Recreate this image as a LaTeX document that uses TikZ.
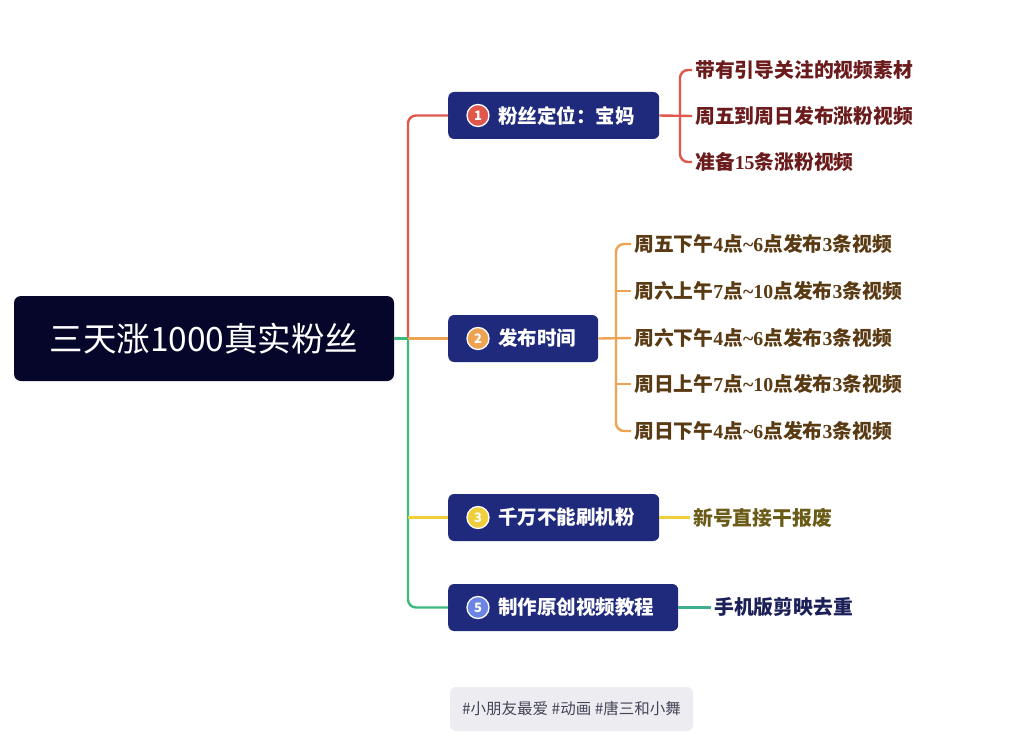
\documentclass[tikz,border=0pt]{standalone}
\usepackage{fontspec}
\setmainfont{Noto Sans CJK SC}
\newfontfamily\dgfont{Liberation Serif}
\newcommand{\dg}[1]{{\dgfont\bfseries #1}}
\definecolor{rootfill}{HTML}{06062A}
\definecolor{boxfill}{HTML}{1F2A7C}
\definecolor{cred}{HTML}{E0574C}
\definecolor{corange}{HTML}{EEA352}
\definecolor{cyellow}{HTML}{EFCF3A}
\definecolor{cgreen}{HTML}{3DB87E}
\definecolor{cteal}{HTML}{3FAE90}
\definecolor{tred}{HTML}{6B1B1B}
\definecolor{tbrown}{HTML}{5A3A12}
\definecolor{tolive}{HTML}{6A5C18}
\definecolor{tnavy}{HTML}{1B2058}
\definecolor{tagfill}{HTML}{EDEDF1}
\definecolor{tagtext}{HTML}{454558}
\definecolor{iblue}{HTML}{6C84E4}
\begin{document}
\begin{tikzpicture}[x=1pt,y=-1pt,
  rootbox/.style={fill=rootfill,rounded corners=7pt,minimum width=380pt,minimum height=85pt,text=white,font=\fontsize{33.5}{36}\selectfont,inner sep=0pt},
  topic/.style={fill=boxfill,rounded corners=6pt,minimum height=47pt,inner sep=0pt,anchor=west},
  topictext/.style={anchor=west,text=white,font=\fontsize{19.5}{21}\selectfont\bfseries,inner sep=0pt},
  leaf/.style={anchor=west,font=\fontsize{19.8}{21}\selectfont\bfseries,inner sep=3pt},
  icon/.style={circle,draw=white,line width=1.3pt,minimum size=22pt,inner sep=0pt,text=white,font=\fontsize{13}{13}\selectfont\bfseries},
  conn/.style={line width=2.4pt,rounded corners=8pt},
  tagbox/.style={fill=tagfill,rounded corners=6pt,minimum width=243pt,minimum height=44pt,text=tagtext,font=\fontsize{15.5}{17}\selectfont,inner sep=0pt}]
\useasboundingbox[fill=white] (0,0) rectangle (1024,754);

% root
\node[rootbox] (root) at (204,338.5) {三天涨1000真实粉丝};

% topic boxes
\node[topic,minimum width=211pt] (b1) at (448,115.5) {};
\node[topic,minimum width=150pt] (b2) at (448,338.5) {};
\node[topic,minimum width=211pt] (b3) at (448,517.5) {};
\node[topic,minimum width=230pt] (b5) at (448,607.5) {};

\node[icon,fill=cred] (i1) at (478,115.5) {1};
\node[icon,fill=corange] (i2) at (478,338.5) {2};
\node[icon,fill=cyellow] (i3) at (478,517.5) {3};
\node[icon,fill=iblue] (i5) at (478,607.5) {5};

\node[topictext] (l1) at (498,115.5) {粉丝定位：宝妈};
\node[topictext] (l2) at (498,338.5) {发布时间};
\node[topictext] (l3) at (498,517.5) {千万不能刷机粉};
\node[topictext] (l5) at (498,607.5) {制作原创视频教程};

% trunk
\coordinate (t) at (408,338.5);
\coordinate (t3) at (408,517.5);
\draw[conn,cred] (t) |- (b1.west);
\draw[conn,cgreen] (t) |- (b5.west);
\draw[conn,cgreen] (root.east) -- (t);
\draw[conn,corange] (t) -- (b2.west);
\draw[conn,cyellow] (t3) -- (b3.west);

% leaves of topic 1
\node[leaf,text=tred] (c11) at (692,70) {带有引导关注的视频素材};
\node[leaf,text=tred] (c12) at (692,116) {周五到周日发布涨粉视频};
\node[leaf,text=tred] (c13) at (692,162) {准备\dg{15}条涨粉视频};
\draw[conn,cred] (c11.west) -- ++(-12,0) |- (c13.west);
\draw[conn,cred] (b1.east) -- (c12.west);

% leaves of topic 2
\node[leaf,text=tbrown] (c21) at (631,244) {周五下午\dg{4}点\dg{\textasciitilde 6}点发布\dg{3}条视频};
\node[leaf,text=tbrown] (c22) at (631,291) {周六上午\dg{7}点\dg{\textasciitilde 10}点发布\dg{3}条视频};
\node[leaf,text=tbrown] (c23) at (631,338) {周六下午\dg{4}点\dg{\textasciitilde 6}点发布\dg{3}条视频};
\node[leaf,text=tbrown] (c24) at (631,384) {周日上午\dg{7}点\dg{\textasciitilde 10}点发布\dg{3}条视频};
\node[leaf,text=tbrown] (c25) at (631,431) {周日下午\dg{4}点\dg{\textasciitilde 6}点发布\dg{3}条视频};
\draw[conn,corange] (c21.west) -- ++(-15,0) |- (c25.west);
\draw[conn,corange] (b2.east) -- (c23.west);
\draw[conn,corange] (c22.west) -- ++(-15,0);
\draw[conn,corange] (c24.west) -- ++(-15,0);

% leaf of topic 3
\node[leaf,text=tolive] (c31) at (690,517.5) {新号直接干报废};
\draw[conn,cyellow] (b3.east) -- (c31.west);

% leaf of topic 5
\node[leaf,text=tnavy] (c51) at (711,607.5) {手机版剪映去重};
\draw[conn,cteal] (b5.east) -- (c51.west);

% tag
\node[tagbox] (tag) at (571.5,709) {\#小朋友最爱 \#动画 \#唐三和小舞};
\end{tikzpicture}
\end{document}
